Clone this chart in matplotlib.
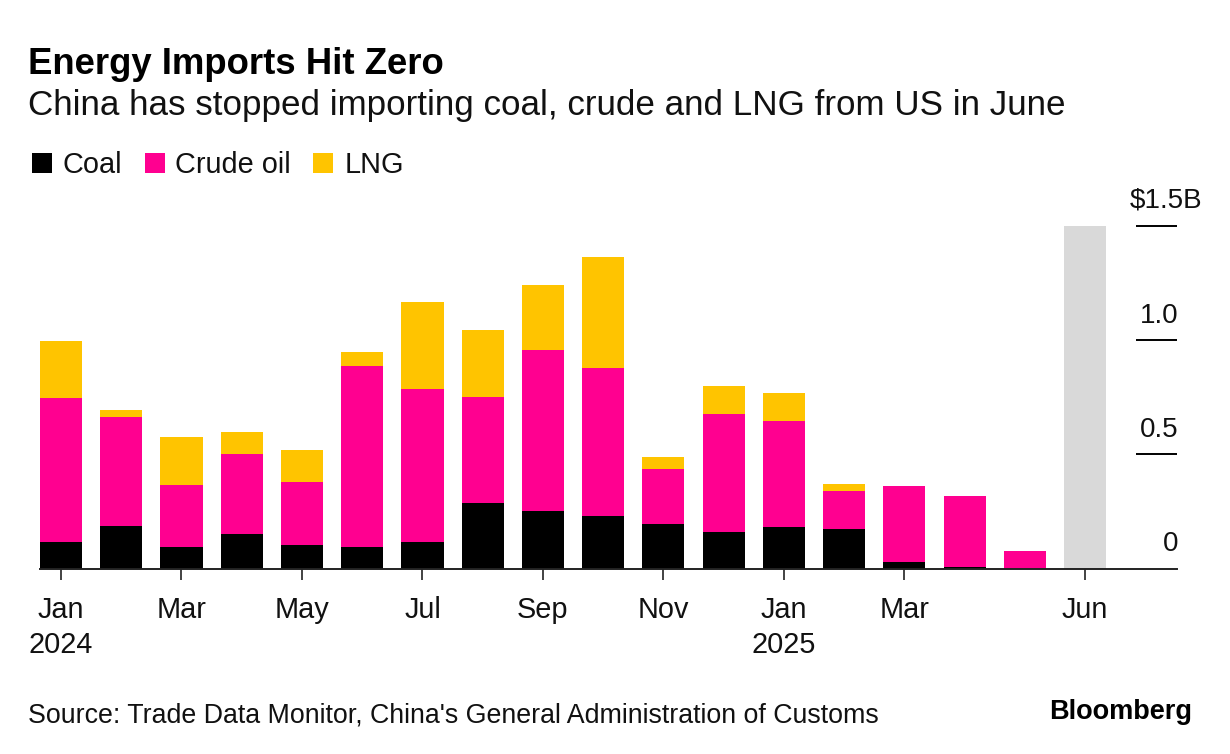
import numpy as np
import matplotlib
matplotlib.use('Agg')
import matplotlib.pyplot as plt
from matplotlib.patches import Rectangle

plt.rcParams['font.family'] = ['Liberation Sans', 'DejaVu Sans']

# $ billions
months = ['Jan', 'Feb', 'Mar', 'Apr', 'May', 'Jun', 'Jul', 'Aug', 'Sep', 'Oct', 'Nov', 'Dec',
          'Jan', 'Feb', 'Mar', 'Apr', 'May', 'Jun']
coal = [0.114, 0.184, 0.096, 0.149, 0.101, 0.092, 0.118, 0.289, 0.25, 0.232, 0.193, 0.162,
        0.18, 0.175, 0.03, 0.008, 0, 0]
crude = [0.632, 0.478, 0.268, 0.351, 0.276, 0.794, 0.667, 0.461, 0.706, 0.645, 0.241, 0.513,
         0.465, 0.163, 0.33, 0.308, 0.075, 0]
lng = [0.25, 0.031, 0.211, 0.096, 0.141, 0.061, 0.382, 0.294, 0.285, 0.487, 0.053, 0.123,
       0.123, 0.03, 0, 0, 0, 0]
highlight = [0, 0, 0, 0, 0, 0, 0, 0, 0, 0, 0, 0, 0, 0, 0, 0, 0, 1.5]

tick_idx = [0, 2, 4, 6, 8, 10, 12, 14, 17]
tick_labels = ['Jan\n2024', 'Mar', 'May', 'Jul', 'Sep', 'Nov', 'Jan\n2025', 'Mar', 'Jun']
y_ticks = [0, 0.5, 1.0, 1.5]
y_labels = ['0', '0.5', '1.0', '$1.5B']

BLACK = '#000000'
PINK = '#ff0090'
YELLOW = '#ffc400'
GREY = '#d9d9d9'
TEXT = '#111111'

W, H = 1230, 754
fig = plt.figure(figsize=(W / 100, H / 100), dpi=100, facecolor='white')
ax = fig.add_axes([40 / W, 1 - 568.5 / H, (1177 - 40) / W, (568.5 - 226) / H])

x = np.arange(len(months))
coal = np.array(coal)
crude = np.array(crude)
lng = np.array(lng)
w = 0.70
ax.bar(x, highlight, w, color=GREY, lw=0)
ax.bar(x, coal, w, color=BLACK, lw=0)
ax.bar(x, crude, w, bottom=coal, color=PINK, lw=0)
ax.bar(x, lng, w, bottom=coal + crude, color=YELLOW, lw=0)

ax.set_xlim((40 - 61) / 60.24, (1177 - 61) / 60.24)
ax.set_ylim(0, 1.5)
for s in ['left', 'right', 'top']:
    ax.spines[s].set_visible(False)
ax.spines['bottom'].set_linewidth(1.4)
ax.spines['bottom'].set_color('#222222')

ax.set_xticks(tick_idx)
ax.set_xticklabels(tick_labels, fontsize=20.8, color=TEXT, linespacing=1.33)
ax.tick_params(axis='x', length=8, width=1.2, color='#222222', pad=11.8)

ax.yaxis.tick_right()
ax.set_yticks(y_ticks[1:])
ax.set_yticklabels([])
ax.tick_params(axis='y', direction='in', length=29.5, width=1.4, color=BLACK, right=True)
for v, lab in zip(y_ticks, y_labels):
    is_top = lab[0] == '$'
    ax.annotate(lab, (1, v), xycoords=('axes fraction', 'data'),
                xytext=(18.2 if is_top else 1, 9.3 if is_top else 8),
                textcoords='offset points', ha='right', va='bottom', fontsize=20, color=TEXT)

fig.text(28 / W, 1 - 74 / H, 'Energy Imports Hit Zero', fontsize=26.3, fontweight='bold', color=BLACK, va='baseline')
fig.text(28 / W, 1 - 115 / H, 'China has stopped importing coal, crude and LNG from US in June',
         fontsize=25.2, color=TEXT, va='baseline')

# legend swatches + text
for px, col, lab, tx in [(32, BLACK, 'Coal', 62), (145, PINK, 'Crude oil', 175), (313, YELLOW, 'LNG', 345)]:
    fig.add_artist(Rectangle((px / W, 1 - 173 / H), 20 / W, 20 / H, transform=fig.transFigure, color=col, lw=0))
    fig.text(tx / W, 1 - 173 / H, lab, fontsize=20.8, color=TEXT, va='baseline')

fig.text(28 / W, 1 - 722 / H, "Source: Trade Data Monitor, China's General Administration of Customs",
         fontsize=19.3, color=TEXT, va='baseline')
fig.text(1192 / W, 1 - 719 / H, 'Bloomberg', fontsize=19.5, fontweight='bold', color=BLACK, va='baseline', ha='right')

fig.savefig('out.png', dpi=100)
